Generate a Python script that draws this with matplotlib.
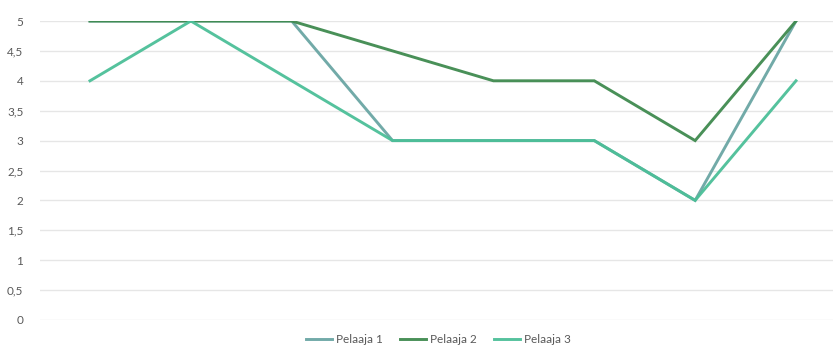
import matplotlib
matplotlib.use("Agg")
from matplotlib import pyplot as plt

# data
rounds = list(range(8))
pelaaja1 = [5, 5, 5, 3, 3, 3, 2, 5]
pelaaja2 = [5, 5, 5, 4.5, 4, 4, 3, 5]
pelaaja3 = [4, 5, 4, 3, 3, 3, 2, 4]
names = ["Pelaaja 1", "Pelaaja 2", "Pelaaja 3"]
yticks = [0, 0.5, 1, 1.5, 2, 2.5, 3, 3.5, 4, 4.5, 5]

plt.rcParams['font.family'] = ['Lato', 'DejaVu Sans']

fig = plt.figure(figsize=(8.35, 3.52), dpi=100)
ax = fig.add_axes([40/835, 32/352, 793/835, 299/352])

colors = ['#6aa6a4', '#3f8a4f', '#4cbf98']
for vals, name, c in zip([pelaaja1, pelaaja2, pelaaja3], names, colors):
	ax.plot(rounds, vals, color=c, lw=2.1, label=name, alpha=0.95, solid_joinstyle='miter')

ax.set_xlim(-50/100.86, 7 + 37/100.86)
ax.set_ylim(0, 5)
ax.set_yticks(yticks)
ax.set_yticklabels([('%g' % v).replace('.', ',') for v in yticks], fontsize=8.5, color='#595959')
ax.set_xticks([])
ax.tick_params(axis='y', length=0, pad=12)
ax.grid(axis='y', color='#e6e6e6', lw=1)
ax.set_axisbelow(True)
for s in ax.spines.values():
	s.set_visible(False)

fig.legend(loc='lower center', bbox_to_anchor=(0.525, -0.01), ncol=3, frameon=False,
	fontsize=8.5, handlelength=2.2, columnspacing=1.5, handletextpad=0.3, labelcolor='#595959')

fig.savefig("out.png", dpi=100)
